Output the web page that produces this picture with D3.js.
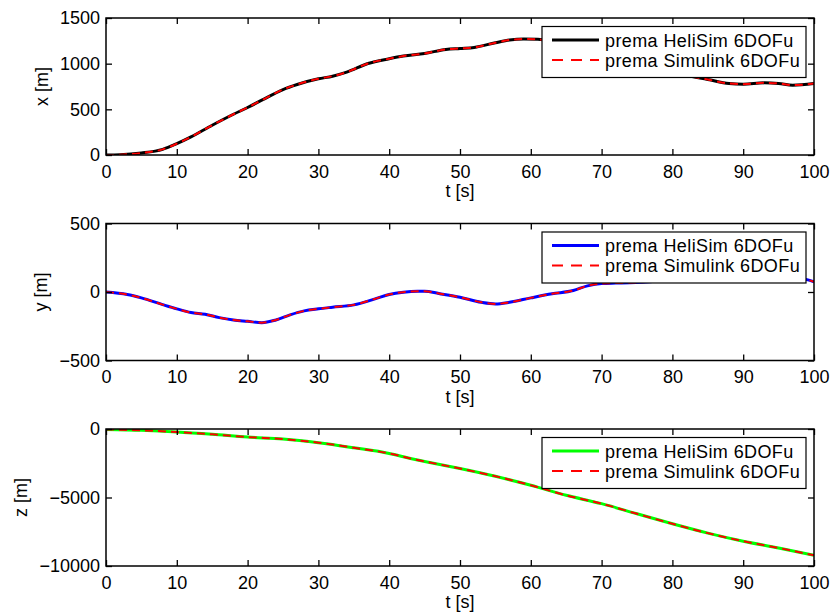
<!DOCTYPE html>
<html>
<head>
<meta charset="utf-8">
<script src="https://cdn.jsdelivr.net/npm/d3@7"></script>
<style>
  html, body { margin: 0; padding: 0; background: #fff; }
  svg { display: block; font-family: "Liberation Sans", Arial, Helvetica, sans-serif; }
</style>
</head>
<body>
<svg id="chart" width="834" height="616"></svg>
<script>
// ---- Data ----
const tTicks = [0, 10, 20, 30, 40, 50, 60, 70, 80, 90, 100];
const legendLabels = ["prema HeliSim 6DOFu", "prema Simulink 6DOFu"];

const xTime = [0,2,5,8,10,12,15,18,20,22,25,27,30,32,34,37,40,42,45,48,50,52,55,57,59,61,63,66,70,74,78,82,85,88,90,93,95,97,100];
const xHeliSim = [0,3,22,62,124,198,326,446,520,600,717,772,834,863,907,1002,1054,1083,1112,1156,1167,1178,1229,1259,1270,1266,1245,1195,1110,1020,940,870,827,783,776,790,783,765,783];
const xSimulink = xHeliSim.slice();
const xTicks = [0, 500, 1000, 1500];

const yTime = [0,3,5,8,10,12,14,16,18,20,22,24,26,28,30,32,35,38,40,42,44,45,47,50,53,55,57,60,63,66,68,70,72,74,78,82,86,90,94,97,99,100];
const yHeliSim = [0,-18,-43,-92,-123,-150,-163,-187,-204,-214,-224,-204,-167,-138,-123,-111,-94,-50,-18,-1,6,6,-11,-38,-75,-87,-75,-43,-13,11,45,62,65,67,80,100,115,125,125,110,90,75];
const ySimulink = yHeliSim.slice();
const yTicks = [-500, 0, 500];

const zTime = [0,5,10,15,20,25,30,35,40,43,45,50,55,60,65,70,75,80,85,90,95,100];
const zHeliSim = [-30,-100,-220,-390,-590,-730,-1000,-1370,-1785,-2150,-2370,-2885,-3450,-4110,-4840,-5450,-6190,-6920,-7600,-8190,-8680,-9220];
const zSimulink = zHeliSim.slice();
const zTicks = [-10000, -5000, 0];

const panels = [
  { label: "x [m]", time: xTime, a: xHeliSim, b: xSimulink, domain: [0, 1500], ticks: xTicks, color: "#000000" },
  { label: "y [m]", time: yTime, a: yHeliSim, b: ySimulink, domain: [-500, 500], ticks: yTicks, color: "#0000ff" },
  { label: "z [m]", time: zTime, a: zHeliSim, b: zSimulink, domain: [-10000, 0], ticks: zTicks, color: "#00ff00" }
];

// ---- Layout ----
const svg = d3.select("#chart");
const left = 106, right = 814;
const tops = [18, 223.5, 429];
const h = 137;
const fontSize = 18;
const tickLen = 6;

const xScale = d3.scaleLinear().domain([0, 100]).range([left, right]);
const fmt = d => d3.format("d")(d).replace("-", "\u2212");

panels.forEach((p, i) => {
  const top = tops[i], bottom = top + h;
  const yScale = d3.scaleLinear().domain(p.domain).range([bottom, top]);
  const g = svg.append("g");

  const clipId = "clip" + i;
  svg.append("clipPath").attr("id", clipId)
    .append("rect").attr("x", left).attr("y", top).attr("width", right - left).attr("height", h);

  // curves
  const pts = arr => p.time.map((t, k) => [t, arr[k]]);
  const line = d3.line().x(d => xScale(d[0])).y(d => yScale(d[1])).curve(d3.curveMonotoneX);
  const cg = g.append("g").attr("clip-path", `url(#${clipId})`);
  cg.append("path").attr("d", line(pts(p.a))).attr("fill", "none")
    .attr("stroke", p.color).attr("stroke-width", 3);
  cg.append("path").attr("d", line(pts(p.b))).attr("fill", "none")
    .attr("stroke", "#ff0000").attr("stroke-width", 2).attr("stroke-dasharray", "8,5");

  // axes: bottom & left with labels, top & right mirrored ticks
  const axB = g.append("g").attr("transform", `translate(0,${bottom})`)
    .call(d3.axisBottom(xScale).tickValues(tTicks).tickFormat(fmt).tickSizeInner(-tickLen).tickSizeOuter(0).tickPadding(10));
  const axT = g.append("g").attr("transform", `translate(0,${top})`)
    .call(d3.axisTop(xScale).tickValues(tTicks).tickFormat("").tickSizeInner(-tickLen).tickSizeOuter(0));
  const axL = g.append("g").attr("transform", `translate(${left},0)`)
    .call(d3.axisLeft(yScale).tickValues(p.ticks).tickFormat(fmt).tickSizeInner(-tickLen).tickSizeOuter(0).tickPadding(6));
  const axR = g.append("g").attr("transform", `translate(${right},0)`)
    .call(d3.axisRight(yScale).tickValues(p.ticks).tickFormat("").tickSizeInner(-tickLen).tickSizeOuter(0));
  [axB, axT, axL, axR].forEach(ax => {
    ax.select(".domain").remove();
    ax.selectAll("line").attr("stroke", "#000").attr("stroke-width", 1.3);
    ax.selectAll("text").attr("font-size", fontSize).attr("fill", "#000")
      .attr("font-family", '"Liberation Sans", Arial, sans-serif');
  });
  axB.selectAll("text").attr("dy", "0.71em");

  // frame
  g.append("rect").attr("x", left).attr("y", top).attr("width", right - left).attr("height", h)
    .attr("fill", "none").attr("stroke", "#000").attr("stroke-width", 1.5);

  // x label
  g.append("text").attr("x", xScale(50)).attr("y", bottom + 42)
    .attr("text-anchor", "middle").attr("font-size", fontSize).text("t [s]");

  // y label: left of the widest tick label
  let minX = left;
  axL.selectAll("text").each(function () {
    const bb = this.getBBox();
    minX = Math.min(minX, left - 6 - bb.width);
  });
  const lx = minX - 12;
  g.append("text").attr("transform", `translate(${lx},${(top + bottom) / 2}) rotate(-90)`)
    .attr("text-anchor", "middle").attr("font-size", fontSize).text(p.label);

  // legend
  const lgX = 542, lgY = top + 8.5, lgW = 264, lgH = 51;
  const lg = g.append("g");
  lg.append("rect").attr("x", lgX).attr("y", lgY).attr("width", lgW).attr("height", lgH)
    .attr("fill", "#fff").attr("stroke", "#000").attr("stroke-width", 1.2);
  const rows = [
    { text: legendLabels[0], color: p.color, w: 3, dash: null },
    { text: legendLabels[1], color: "#ff0000", w: 2, dash: "11,8" }
  ];
  rows.forEach((r, k) => {
    const ly = lgY + 13.5 + k * 20;
    const ln = lg.append("line").attr("x1", lgX + 10).attr("x2", lgX + 57)
      .attr("y1", ly).attr("y2", ly).attr("stroke", r.color).attr("stroke-width", r.w);
    if (r.dash) ln.attr("stroke-dasharray", r.dash);
    lg.append("text").attr("x", lgX + 63).attr("y", ly + 6.5)
      .attr("font-size", fontSize).attr("letter-spacing", 0.4).text(r.text);
  });
});
</script>
</body>
</html>
